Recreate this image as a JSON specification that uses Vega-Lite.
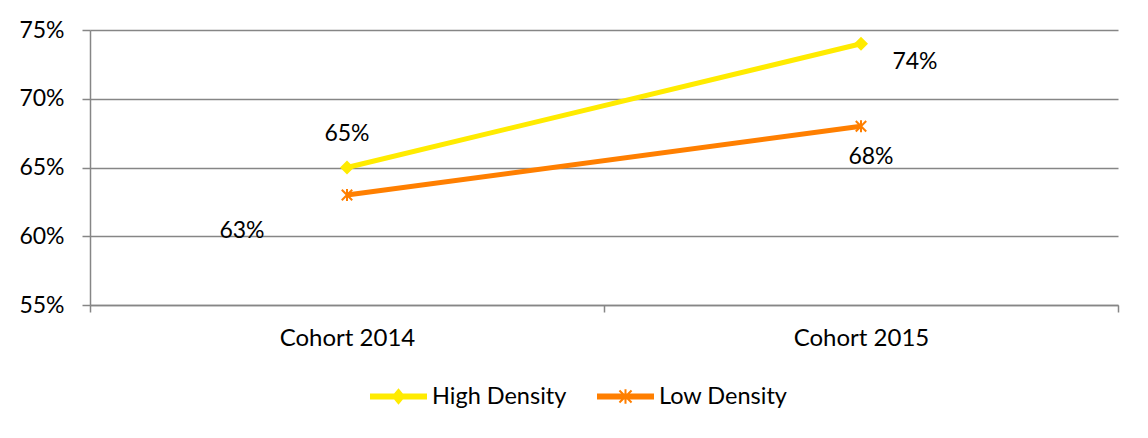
{
  "$schema": "https://vega.github.io/schema/vega-lite/v6.json",
  "autosize": "none",
  "width": 1028,
  "height": 275,
  "padding": {"left": 90, "top": 30, "right": 30, "bottom": 133},
  "background": "white",
  "config": {
    "view": {"stroke": null},
    "font": "Lato",
    "axis": {
      "labelFont": "Lato",
      "labelFontSize": 23,
      "labelColor": "#000000",
      "domainColor": "#868686",
      "domainWidth": 1.5,
      "tickColor": "#868686",
      "tickWidth": 1.5,
      "gridColor": "#868686",
      "gridWidth": 1.5,
      "title": null
    }
  },
  "data": {
    "values": [
      {"series": "High Density", "cohort": "Cohort 2014", "value": 0.65},
      {"series": "High Density", "cohort": "Cohort 2015", "value": 0.74},
      {"series": "Low Density", "cohort": "Cohort 2014", "value": 0.63},
      {"series": "Low Density", "cohort": "Cohort 2015", "value": 0.68}
    ]
  },
  "encoding": {
    "x": {
      "field": "cohort",
      "type": "nominal",
      "sort": ["Cohort 2014", "Cohort 2015"],
      "scale": {"type": "band", "paddingInner": 0, "paddingOuter": 0},
      "axis": {
        "labelAngle": 0,
        "labelFontSize": 24,
        "tickBand": "extent",
        "tickSize": 7,
        "labelPadding": 14,
        "domain": true,
        "grid": false
      }
    },
    "y": {
      "field": "value",
      "type": "quantitative",
      "scale": {"domain": [0.55, 0.75], "nice": false, "zero": false},
      "axis": {
        "values": [0.55, 0.6, 0.65, 0.7, 0.75],
        "format": ".0%",
        "tickSize": 8,
        "labelPadding": 18,
        "grid": true
      }
    }
  },
  "resolve": {"legend": {"color": "independent", "shape": "independent"}},
  "layer": [
    {
      "mark": {"type": "line", "strokeWidth": 5},
      "encoding": {
        "color": {
          "field": "series",
          "type": "nominal",
          "scale": {"domain": ["High Density", "Low Density"], "range": ["#FFEB00", "#FF7F00"]},
          "legend": null
        }
      }
    },
    {
      "transform": [{"filter": "datum.series === 'High Density'"}],
      "mark": {"type": "point", "shape": "diamond", "filled": true, "size": 196, "color": "#FFEB00", "opacity": 1}
    },
    {
      "transform": [{"filter": "datum.series === 'Low Density'"}],
      "mark": {
        "type": "point",
        "shape": "M0,-1L0,1M-0.85,-0.85L0.85,0.85M-0.85,0.85L0.85,-0.85",
        "filled": false,
        "size": 150,
        "strokeWidth": 2,
        "color": "#FF7F00",
        "opacity": 1
      }
    },
    {
      "mark": {"type": "point", "filled": true, "opacity": 0},
      "encoding": {
        "color": {
          "field": "series",
          "type": "nominal",
          "scale": {"domain": ["High Density", "Low Density"], "range": ["#FFEB00", "#FF7F00"]},
          "legend": {
            "orient": "none",
            "legendX": 280,
            "legendY": 338,
            "direction": "horizontal",
            "title": null,
            "symbolSize": 3025,
            "symbolOpacity": 1,
            "labelFont": "Lato",
            "labelFontSize": 23.5,
            "labelColor": "#000000",
            "labelOffset": 5,
            "columnPadding": 27,
            "padding": 0,
            "encode": {
              "symbols": {
                "update": {
                  "fill": {"scale": "color", "field": "value"},
                  "stroke": {"scale": "color", "field": "value"},
                  "strokeWidth": {"value": 2},
                  "opacity": {"value": 1}
                }
              }
            }
          }
        },
        "shape": {
          "field": "series",
          "type": "nominal",
          "scale": {
            "domain": ["High Density", "Low Density"],
            "range": [
              "M-1,-0.073L1,-0.073L1,0.073L-1,0.073ZM-0.2,0L0,-0.24L0.2,0L0,0.24Z",
              "M-1,-0.073L1,-0.073L1,0.073L-1,0.073ZM0,-0.26L0,0.26M-0.22,-0.22L0.22,0.22M-0.22,0.22L0.22,-0.22"
            ]
          },
          "legend": {
            "orient": "none",
            "legendX": 280,
            "legendY": 338,
            "direction": "horizontal",
            "title": null,
            "symbolSize": 3025,
            "symbolOpacity": 1,
            "labelFont": "Lato",
            "labelFontSize": 23.5,
            "labelColor": "#000000",
            "labelOffset": 5,
            "columnPadding": 27,
            "padding": 0,
            "encode": {
              "symbols": {
                "update": {
                  "fill": {"scale": "color", "field": "value"},
                  "stroke": {"scale": "color", "field": "value"},
                  "strokeWidth": {"value": 2},
                  "opacity": {"value": 1}
                }
              }
            }
          }
        }
      }
    },
    {
      "transform": [{"filter": "datum.series === 'High Density' && datum.cohort === 'Cohort 2014'"}],
      "mark": {"type": "text", "font": "Lato", "fontSize": 23, "color": "#000000", "baseline": "middle", "dx": 0, "dy": -34},
      "encoding": {"text": {"field": "value", "type": "quantitative", "format": ".0%"}}
    },
    {
      "transform": [{"filter": "datum.series === 'High Density' && datum.cohort === 'Cohort 2015'"}],
      "mark": {"type": "text", "font": "Lato", "fontSize": 23, "color": "#000000", "baseline": "middle", "dx": 54, "dy": 18},
      "encoding": {"text": {"field": "value", "type": "quantitative", "format": ".0%"}}
    },
    {
      "transform": [{"filter": "datum.series === 'Low Density' && datum.cohort === 'Cohort 2014'"}],
      "mark": {"type": "text", "font": "Lato", "fontSize": 23, "color": "#000000", "baseline": "middle", "dx": -105, "dy": 36},
      "encoding": {"text": {"field": "value", "type": "quantitative", "format": ".0%"}}
    },
    {
      "transform": [{"filter": "datum.series === 'Low Density' && datum.cohort === 'Cohort 2015'"}],
      "mark": {"type": "text", "font": "Lato", "fontSize": 23, "color": "#000000", "baseline": "middle", "dx": 10, "dy": 31},
      "encoding": {"text": {"field": "value", "type": "quantitative", "format": ".0%"}}
    }
  ]
}
